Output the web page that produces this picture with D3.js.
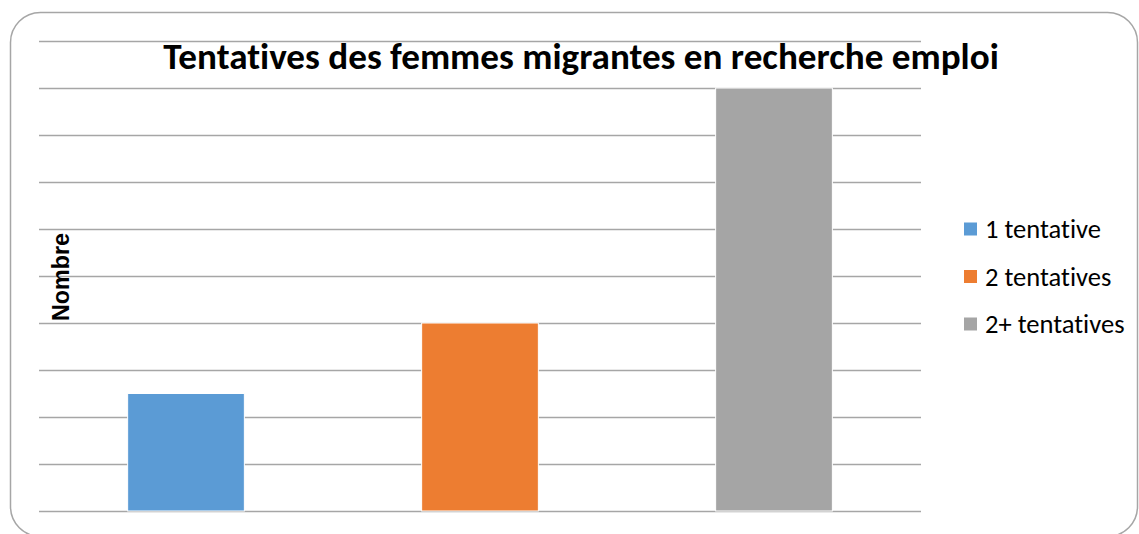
<!DOCTYPE html>
<html>
<head>
<meta charset="utf-8">
<script src="https://cdn.jsdelivr.net/npm/d3@7"></script>
<style>
  body { margin: 0; background: #fff; }
  svg { display: block; }
  text { font-variant-ligatures: none; font-feature-settings: "liga" 0; }
</style>
</head>
<body>
<div id="chart"></div>
<script>
// values
const categories = ['1 tentative', '2 tentatives', '2+ tentatives'];
const values = [2.5, 4, 9];
const colors = ['#5b9bd5', '#ed7d31', '#a5a5a5'];
const yTicks = d3.range(0, 11);

const width = 1139;
const height = 534;
const plot = { left: 39, right: 921, top: 41, bottom: 511 };

const svg = d3
  .select('#chart')
  .append('svg')
  .attr('width', width)
  .attr('height', height);

// outer rounded frame
svg
  .append('rect')
  .attr('x', 10.5)
  .attr('y', 12.5)
  .attr('width', 1127)
  .attr('height', 524)
  .attr('rx', 30)
  .attr('fill', '#fff')
  .attr('stroke', '#a6a6a6')
  .attr('stroke-width', 1.5);

const x = d3
  .scaleBand()
  .domain(categories)
  .range([plot.left, plot.right])
  .paddingInner(0.603)
  .paddingOuter(0.3015);

const y = d3.scaleLinear().domain([0, 10]).range([plot.bottom, plot.top]);

// gridlines
svg
  .append('g')
  .attr('transform', `translate(${plot.left},0)`)
  .call(
    d3
      .axisLeft(y)
      .tickValues(yTicks)
      .tickSize(-(plot.right - plot.left))
      .tickFormat(''),
  )
  .call((g) => g.select('.domain').remove())
  .call((g) => g.selectAll('.tick line').attr('stroke', '#a6a6a6').attr('stroke-width', 1.3));

// bars
svg
  .append('g')
  .selectAll('rect')
  .data(categories)
  .join('rect')
  .attr('x', (d) => x(d))
  .attr('y', (d, i) => y(values[i]))
  .attr('width', x.bandwidth())
  .attr('height', (d, i) => y(0) - y(values[i]))
  .attr('fill', (d, i) => colors[i])
  .attr('stroke', '#fff')
  .attr('stroke-width', 1);

// fit a text node's font size so it spans a given width
function fitWidth(sel, base, target) {
  const w = sel.node().getComputedTextLength();
  sel.style('font-size', `${(base * target) / w}px`);
}

const title = svg
  .append('text')
  .attr('x', 581)
  .attr('y', 69)
  .attr('text-anchor', 'middle')
  .style('font-family', 'Carlito, "Open Sans", "Liberation Sans", sans-serif')
  .style('font-weight', 'bold')
  .style('font-size', '30px')
  .attr('fill', '#000')
  .text('Tentatives des femmes migrantes en recherche emploi');
fitWidth(title, 30, 836);

// y axis label
const ylab = svg
  .append('text')
  .attr('transform', 'translate(69,277) rotate(-90)')
  .attr('text-anchor', 'middle')
  .style('font-family', '"Liberation Sans", Arial, sans-serif')
  .style('font-weight', 'bold')
  .style('font-size', '19px')
  .attr('fill', '#000')
  .text('Nombre');
fitWidth(ylab, 19, 88);

// legend
const legend = svg
  .append('g')
  .selectAll('g')
  .data(categories)
  .join('g')
  .attr('transform', (d, i) => `translate(964,${229 + i * 47.5})`);

legend
  .append('rect')
  .attr('y', -6.5)
  .attr('width', 13)
  .attr('height', 13)
  .attr('fill', (d, i) => colors[i]);

const ltext = legend
  .append('text')
  .attr('x', 21)
  .attr('dy', '0.35em')
  .style('font-family', 'Carlito, "Open Sans", "Liberation Sans", sans-serif')
  .style('font-size', '21px')
  .attr('fill', '#000')
  .text((d) => d);
const lw = ltext.nodes()[0].getComputedTextLength();
ltext.style('font-size', `${(21 * 116) / lw}px`);
</script>
</body>
</html>
